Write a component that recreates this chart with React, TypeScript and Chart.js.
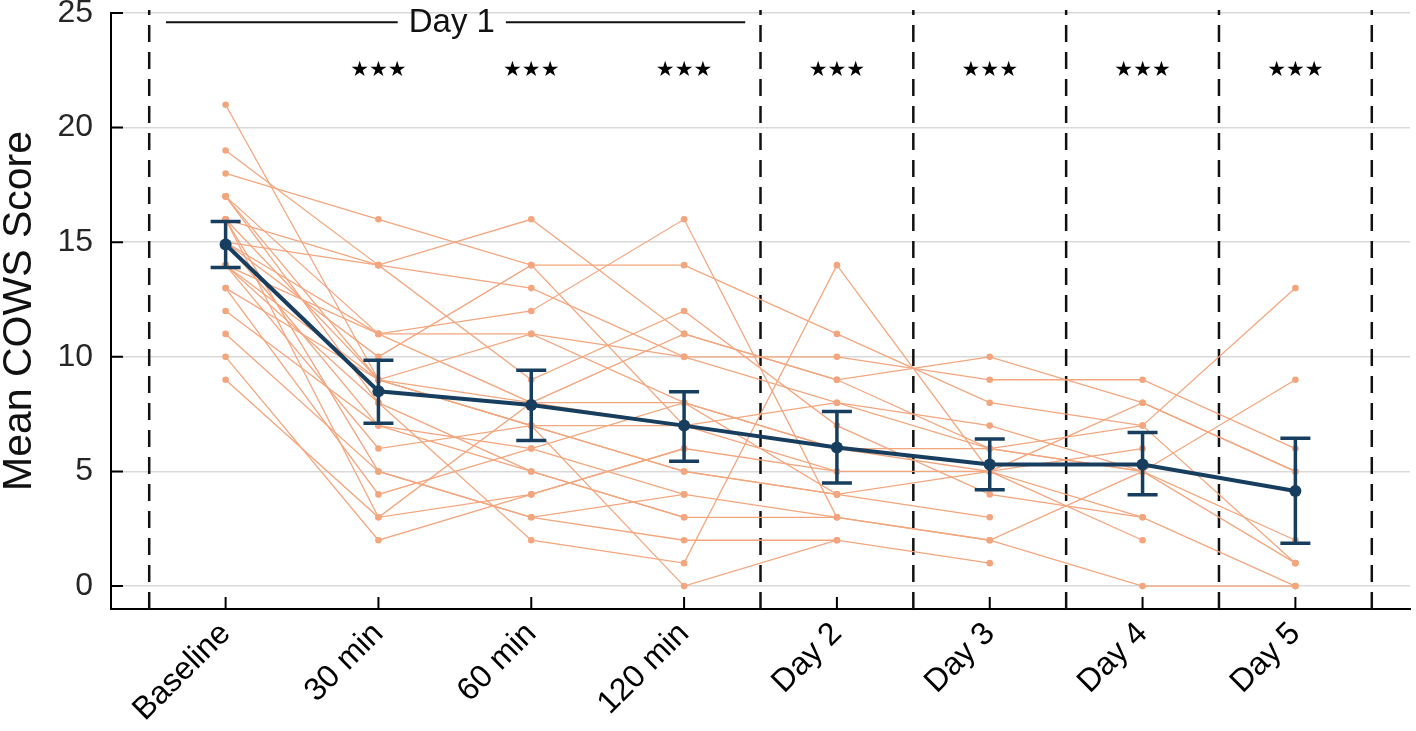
import React, { useEffect, useRef } from "react";
import { Chart, registerables } from "chart.js";

Chart.register(...registerables);

// ---------- data ----------
const categories = ["Baseline", "30 min", "60 min", "120 min", "Day 2", "Day 3", "Day 4", "Day 5"];
const yTicks = [0, 5, 10, 15, 20, 25];

const meanScore = [14.9, 8.5, 7.9, 7.0, 6.05, 5.3, 5.3, 4.15];
const ciLow = [13.9, 7.1, 6.35, 5.45, 4.5, 4.2, 3.98, 1.87];
const ciHigh = [15.9, 9.85, 9.42, 8.48, 7.62, 6.42, 6.7, 6.45];

const s01 = [21, 9, 7, 5, 4, null, null, null];
const s02 = [19, 14, 16, 11, 9, 6, 5, 2];
const s03 = [18, 16, 14, 14, 11, 8, 7, 13];
const s04 = [17, 11, 12, 16, 3, 2, 5, 9];
const s05 = [17, 8, 5, 3, 3, 2, 0, 0];
const s06 = [17, 9, 11, 8, 6, 5, 8, 5];
const s07 = [16, 14, 13, 10, 10, 9, 9, 6];
const s08 = [16, 3, 4, 6, 5, null, null, null];
const s09 = [16, 9, 7, 7, 8, 6, 5, 1];
const s10 = [16, 5, 3, 2, 2, 1, null, null];
const s11 = [15, 14, 9, 12, 7, 4, 3, 0];
const s12 = [15, 11, 8, 11, 9, 10, 8, 5];
const s13 = [15, 10, 14, 7, 5, 5, 6, null];
const s14 = [15, 7, 6, 4, null, null, null, null];
const s15 = [14, 9, 8, 8, 6, 6, 7, 1];
const s16 = [14, 11, 11, 10, 8, 7, 5, null];
const s17 = [14, 8, 2, 1, 14, 5, 2, null];
const s18 = [14, 6, 7, 5, 4, 3, null, null];
const s19 = [13, 9, 7, 0, 2, null, null, null];
const s20 = [13, 4, 6, 8, 4, 5, 3, null];
const s21 = [12, 7, 5, 3, null, null, null, null];
const s22 = [11, 5, 3, 4, 3, null, null, null];
const s23 = [10, 2, 4, 6, null, null, null, null];
const s24 = [9, 3, 8, 7, null, null, null, null];

const subjects = [s01, s02, s03, s04, s05, s06, s07, s08, s09, s10, s11, s12,
  s13, s14, s15, s16, s17, s18, s19, s20, s21, s22, s23, s24];

const separators = [-0.5, 3.5, 4.5, 5.5, 6.5, 7.5];
const starCategories = [1, 2, 3, 4, 5, 6, 7];
const starLabel = "\u2605\u2605\u2605";
const starY = 22.5;
const dayOneLabel = "Day 1";
const dayOneSpan = [-0.39, 3.4];
const dayOneLabelX = 1.48;
const dayOneY = 24.6;

// ---------- style ----------
const FONT = '"Liberation Sans", Arial, Helvetica, sans-serif';
const ORANGE = "#F3A67E";
const NAVY = "#173E5E";

const overlay = {
  id: "overlay",
  beforeDatasetsDraw(chart: any) {
    const { ctx, chartArea, scales } = chart;
    const xs = scales.x;
    ctx.save();
    ctx.strokeStyle = "#111";
    ctx.lineWidth = 2.5;
    ctx.setLineDash([17, 10]);
    separators.forEach((v) => {
      const px = xs.getPixelForValue(v);
      ctx.beginPath();
      ctx.moveTo(px, chartArea.bottom);
      ctx.lineTo(px, chartArea.top - 3);
      ctx.stroke();
    });
    ctx.restore();
  },
  afterDatasetsDraw(chart: any) {
    const { ctx, chartArea, scales } = chart;
    const xs = scales.x;
    const ys = scales.y;
    ctx.save();
    // error bars
    ctx.strokeStyle = NAVY;
    ctx.lineWidth = 3.5;
    const cap = 15;
    meanScore.forEach((_, i) => {
      const px = xs.getPixelForValue(i);
      const lo = ys.getPixelForValue(ciLow[i]);
      const hi = ys.getPixelForValue(ciHigh[i]);
      ctx.beginPath();
      ctx.moveTo(px, lo);
      ctx.lineTo(px, hi);
      ctx.moveTo(px - cap, lo);
      ctx.lineTo(px + cap, lo);
      ctx.moveTo(px - cap, hi);
      ctx.lineTo(px + cap, hi);
      ctx.stroke();
    });
    // inward ticks
    ctx.strokeStyle = "#000";
    ctx.lineWidth = 2;
    ctx.beginPath();
    categories.forEach((_, i) => {
      const px = xs.getPixelForValue(i);
      ctx.moveTo(px, chartArea.bottom);
      ctx.lineTo(px, chartArea.bottom - 12);
    });
    yTicks.forEach((v) => {
      const py = ys.getPixelForValue(v);
      ctx.moveTo(chartArea.left, py);
      ctx.lineTo(chartArea.left + 12, py);
    });
    ctx.stroke();
    // Day 1 annotation
    const ly = ys.getPixelForValue(dayOneY);
    const cx = xs.getPixelForValue(dayOneLabelX);
    ctx.font = `33px ${FONT}`;
    const w = ctx.measureText(dayOneLabel).width;
    ctx.fillStyle = "#111";
    ctx.textAlign = "center";
    ctx.textBaseline = "middle";
    ctx.fillText(dayOneLabel, cx, ly + 1);
    ctx.strokeStyle = "#111";
    ctx.lineWidth = 2;
    ctx.beginPath();
    ctx.moveTo(xs.getPixelForValue(dayOneSpan[0]), ly);
    ctx.lineTo(cx - w / 2 - 11, ly);
    ctx.moveTo(cx + w / 2 + 11, ly);
    ctx.lineTo(xs.getPixelForValue(dayOneSpan[1]), ly);
    ctx.stroke();
    // stars
    ctx.font = '21px "DejaVu Sans", sans-serif';
    ctx.fillStyle = "#000";
    starCategories.forEach((i) => {
      ctx.fillText(starLabel, xs.getPixelForValue(i), ys.getPixelForValue(starY));
    });
    ctx.restore();
  },
};

export default function App() {
  const ref = useRef<HTMLCanvasElement>(null);
  useEffect(() => {
    const canvas = ref.current;
    if (!canvas) return;
    const subjectSets = subjects.map((vals, k) => ({
      label: `S${k + 1}`,
      data: vals.map((v, i) => ({ x: i, y: v })),
      borderColor: ORANGE,
      backgroundColor: ORANGE,
      borderWidth: 1.3,
      pointRadius: 3.3,
      pointBorderWidth: 0,
      pointHoverRadius: 0,
      fill: false,
      order: 1,
    }));
    const meanSet = {
      label: "Mean",
      data: meanScore.map((v, i) => ({ x: i, y: v })),
      borderColor: NAVY,
      backgroundColor: NAVY,
      borderWidth: 4,
      pointRadius: 6,
      pointBorderWidth: 0,
      pointHoverRadius: 0,
      fill: false,
      order: -1,
    };
    const chart = new Chart(canvas, {
      type: "line",
      data: { datasets: [meanSet, ...subjectSets] as any },
      options: {
        animation: false,
        responsive: false,
        devicePixelRatio: 1,
        layout: { padding: { top: 13, left: 0, right: 0, bottom: 0 } },
        plugins: { legend: { display: false }, tooltip: { enabled: false } },
        elements: { line: { tension: 0 } },
        scales: {
          x: {
            type: "linear",
            min: -0.75,
            max: 7.75,
            afterBuildTicks: (s: any) => {
              s.ticks = categories.map((_, i) => ({ value: i }));
            },
            afterFit: (s: any) => {
              s.height = 122;
            },
            grid: { display: false, drawTicks: false },
            border: { display: true, color: "#000", width: 2 },
            ticks: {
              autoSkip: false,
              minRotation: 45,
              maxRotation: 45,
              padding: 6,
              color: "#000",
              font: { family: FONT, size: 32 },
              callback: (v: any) => categories[v] ?? "",
            },
          },
          y: {
            type: "linear",
            min: -1,
            max: 25,
            afterBuildTicks: (s: any) => {
              s.ticks = yTicks.map((v) => ({ value: v }));
            },
            afterFit: (s: any) => {
              s.width = 111;
            },
            grid: {
              color: "#d9d9d9",
              lineWidth: 1.5,
              drawTicks: true,
              tickLength: 18,
              tickColor: "rgba(0,0,0,0)",
            },
            border: { display: true, color: "#000", width: 2 },
            ticks: {
              padding: 0,
              color: "#262626",
              font: { family: FONT, size: 32, lineHeight: 0.8 },
            },
            title: {
              display: true,
              text: "Mean COWS Score",
              color: "#111",
              font: { family: FONT, size: 41, lineHeight: 0.95 },
              padding: { top: 0, bottom: 0 },
            },
          },
        },
      } as any,
      plugins: [overlay],
    });
    return () => chart.destroy();
  }, []);
  return (
    <div style={{ position: "fixed", left: 0, top: 0, width: 1416, height: 731, background: "#fff" }}>
      <canvas ref={ref} width={1416} height={731} style={{ display: "block", width: 1416, height: 731 }} />
    </div>
  );
}
